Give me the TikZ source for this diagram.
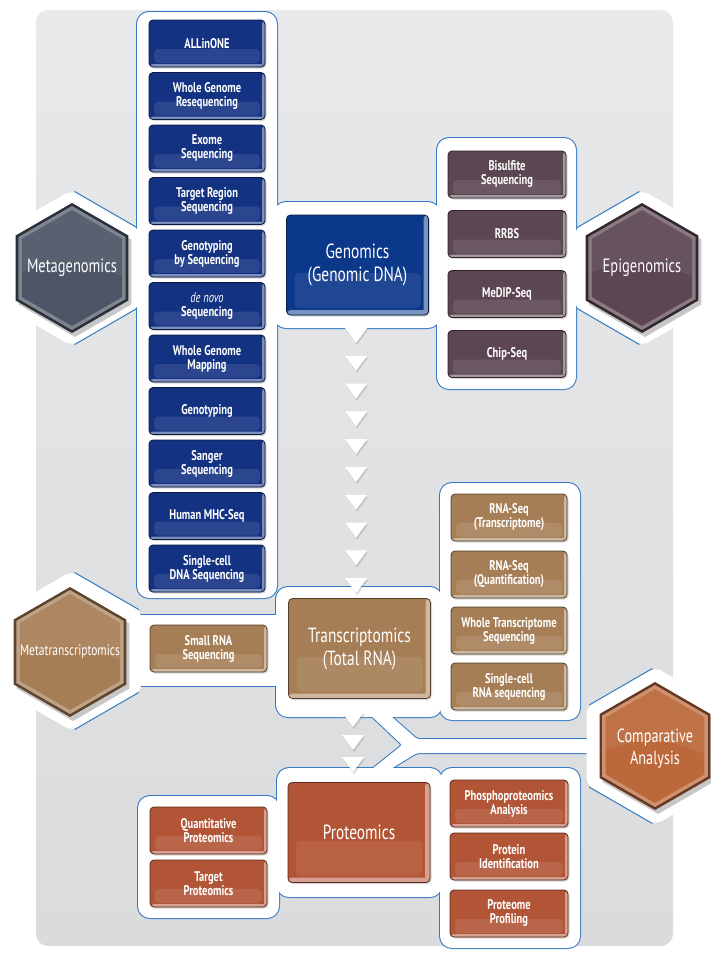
\documentclass[tikz,border=0pt]{standalone}
\usepackage{fontspec}
\newfontfamily\cf{PT Sans}[FakeStretch=0.75]
\usetikzlibrary{shadows}
\definecolor{bgtop}{RGB}{232,233,235}
\definecolor{bgbot}{RGB}{218,219,221}
\definecolor{pblue}{RGB}{50,120,195}
\definecolor{cblue}{RGB}{20,50,130}
\definecolor{cgen}{RGB}{12,56,138}
\definecolor{cepi}{RGB}{92,70,82}
\definecolor{cmeta}{RGB}{76,86,102}
\definecolor{ctan}{RGB}{166,126,86}
\definecolor{crust}{RGB}{178,84,54}
\definecolor{ccomp}{RGB}{188,104,58}

\newcommand\hexp[3]{(#1,{(#2)-(#3)}) -- ++({0.866*(#3)},{0.5*(#3)}) -- ++(0,{#3}) -- ++({-0.866*(#3)},{0.5*(#3)}) -- ++({-0.866*(#3)},{-0.5*(#3)}) -- ++(0,{-(#3)}) -- cycle}

\newcommand\hexbody[4]{%
 \fill[black,opacity=.22] \hexp{#1+3}{#2+4}{#3};
 \fill[#4!55!black] \hexp{#1}{#2}{#3};
 \fill[#4!72!white] \hexp{#1}{#2}{#3-3};
 \fill[#4] \hexp{#1}{#2}{#3-7};
 \fill[white,opacity=.07] ({#1-0.866*(#3-7)},{#2-0.5*(#3-7)}) -- (#1,{#2-(#3-7)}) -- ({#1+0.866*(#3-7)},{#2-0.5*(#3-7)}) -- ({#1+0.866*(#3-7)},{#2+8}) .. controls (#1,{#2-10}) .. ({#1-0.866*(#3-7)},{#2+4}) -- cycle;
}

\newcommand\allpanels[1]{%
 \path[#1,rounded corners=12pt] (137,12) rectangle (277,598);
 \path[#1,rounded corners=12pt] (274,202) rectangle (440,328);
 \path[#1,rounded corners=12pt] (437,138) rectangle (576,389);
 \path[#1] (80,232) rectangle (140,304);
 \path[#1] (574,232) rectangle (635,304);
 \path[#1,rounded corners=12pt] (276,587) rectangle (442,717);
 \path[#1,rounded corners=12pt] (440,483) rectangle (580,720);
 \path[#1] (80,615) rectangle (279,686);
 \path[#1,rounded corners=2pt] (365,710) -- (384,710) -- (417,739) -- (600,739) -- (600,753) -- (417,753) -- (384,773) -- (367,773) -- (402,745) -- cycle;
 \path[#1,rounded corners=12pt] (277,768) rectangle (442,897);
 \path[#1,rounded corners=12pt] (440,768) rectangle (580,948);
 \path[#1,rounded corners=12pt] (138,796) rectangle (279,918);
}
\newcommand\halos{%
 \fill[white,rounded corners=8pt] \hexp{72}{268}{78};
 \fill[white,rounded corners=8pt] \hexp{642}{268}{78};
 \fill[white,rounded corners=8pt] \hexp{72}{651}{80};
 \fill[white,rounded corners=8pt] \hexp{655}{746}{79};
}

\tikzset{
 boxbase/.style={rounded corners=4pt, fill=#1, draw=#1!50!black, line width=0.8pt, text=white, align=center, inner sep=0pt,
   drop shadow={opacity=0.3,shadow xshift=1.5pt,shadow yshift=-1.5pt}},
 sbox/.style={boxbase=#1, minimum width=116pt, minimum height=47pt, font=\cf\bfseries\fontsize{14}{14}\selectfont,
   path picture={
     \fill[white,opacity=0.10] ([xshift=5pt,yshift=4pt]path picture bounding box.south west) rectangle ([xshift=-5pt,yshift=18pt]path picture bounding box.south east);
     \fill[#1!55!white] (path picture bounding box.south west) rectangle ([yshift=3pt]path picture bounding box.south east);
     \fill[#1!55!white] ([xshift=-3pt]path picture bounding box.north east) rectangle (path picture bounding box.south east);
   }},
 bbox/.style={boxbase=#1, minimum width=142pt, minimum height=100pt, font=\cf\fontsize{20.5}{23}\selectfont,
   path picture={
     \fill[white,opacity=0.08] ([xshift=8pt,yshift=7pt]path picture bounding box.south west) rectangle ([xshift=-8pt,yshift=42pt]path picture bounding box.south east);
     \fill[#1!55!white] (path picture bounding box.south west) rectangle ([yshift=5pt]path picture bounding box.south east);
     \fill[#1!55!white] ([xshift=-5pt]path picture bounding box.north east) rectangle (path picture bounding box.south east);
   }},
 hexlabel/.style={text=white, align=center, font=\cf\fontsize{19.3}{22}\selectfont},
 tri/.style={fill=white, drop shadow={opacity=0.3,shadow xshift=1pt,shadow yshift=-2pt}},
 haloedge/.style={draw=pblue, line width=1pt, shorten <=3pt, shorten >=3pt},
}

\begin{document}
\begin{tikzpicture}[x=1pt,y=-1pt]
\useasboundingbox (0,0) rectangle (711,954);
\shade[top color=bgtop, bottom color=bgbot, rounded corners=12pt] (36,10) rectangle (673,946);

% white panels with blue outline
\begin{scope}
 \clip (36,0) rectangle (673,954);
 \allpanels{draw=pblue,line width=2pt,fill=white}
 \allpanels{fill=white}
 \halos
 \draw[haloedge] (72,190) -- (139.5,229);
 \draw[haloedge] (139.5,307) -- (72,346);
 \draw[haloedge] (642,190) -- (574.5,229);
 \draw[haloedge] (574.5,307) -- (642,346);
 \draw[haloedge] (72,571) -- (141.3,611);
 \draw[haloedge] (141.3,691) -- (72,731);
 \draw[haloedge] (655,667) -- (586.6,706.5);
 \draw[haloedge] (586.6,785.5) -- (655,825);
\end{scope}

% flow triangles
\foreach \k in {0,...,9} {
  \path[tri] ({356-11},{328+27.8*\k}) -- ++(22,0) -- ++(-11,15) -- cycle;
}
\foreach \t in {712,735,757} {
  \path[tri] (342,\t) -- ++(22,0) -- ++(-11,15) -- cycle;
}

% hexagons
\hexbody{72}{268}{65}{cmeta}
\hexbody{642}{268}{65}{cepi}
\hexbody{70}{652}{65}{ctan}
\hexbody{655}{746}{64}{ccomp}
\node[hexlabel] (metag) at (72,268) {Metagenomics};
\node[hexlabel] (epig) at (642,268) {Epigenomics};
\node[hexlabel, font=\cf\fontsize{15.3}{16}\selectfont] (metat) at (70,652) {Metatranscriptomics};
\node[hexlabel, font=\cf\fontsize{19}{22}\selectfont] (comp) at (655,749) {Comparative\\Analysis};

% genomics column
\node[sbox=cblue] (b1) at (207,43.5) {ALLinONE};
\node[sbox=cblue] (b2) at (207,96) {Whole Genome\\Resequencing};
\node[sbox=cblue] (b3) at (207,148.5) {Exome\\Sequencing};
\node[sbox=cblue] (b4) at (207,201) {Target Region\\Sequencing};
\node[sbox=cblue] (b5) at (207,253.5) {Genotyping\\by Sequencing};
\node[sbox=cblue] (b6) at (207,306) {{\mdseries\itshape de novo}\\Sequencing};
\node[sbox=cblue] (b7) at (207,358.5) {Whole Genome\\Mapping};
\node[sbox=cblue] (b8) at (207,411) {Genotyping};
\node[sbox=cblue] (b9) at (207,463.5) {Sanger\\Sequencing};
\node[sbox=cblue] (b10) at (207,516) {Human MHC-Seq};
\node[sbox=cblue] (b11) at (207,568.5) {Single-cell\\DNA Sequencing};

\node[bbox=cgen] (gen) at (357.5,265) {Genomics\\(Genomic DNA)};

\node[sbox=cepi, minimum width=118pt] (e1) at (507,174.5) {Bisulfite\\Sequencing};
\node[sbox=cepi, minimum width=118pt] (e2) at (507,234) {RRBS};
\node[sbox=cepi, minimum width=118pt] (e3) at (507,294) {MeDIP-Seq};
\node[sbox=cepi, minimum width=118pt] (e4) at (507,354) {Chip-Seq};

% transcriptomics
\node[bbox=ctan] (tr) at (359.5,648.5) {Transcriptomics\\(Total RNA)};
\node[sbox=ctan] (r1) at (509,517.5) {RNA-Seq\\(Transcriptome)};
\node[sbox=ctan] (r2) at (509,574.5) {RNA-Seq\\(Quantification)};
\node[sbox=ctan] (r3) at (509,630.5) {Whole Transcriptome\\Sequencing};
\node[sbox=ctan] (r4) at (509,686.5) {Single-cell\\RNA sequencing};
\node[sbox=ctan, minimum width=117pt] (sr) at (208.5,648.5) {Small RNA\\Sequencing};

% proteomics
\node[bbox=crust] (pr) at (359,832.5) {Proteomics};
\node[sbox=crust, minimum width=118pt] (p1) at (509,803.5) {Phosphoproteomics\\Analysis};
\node[sbox=crust, minimum width=118pt] (p2) at (509,856.5) {Protein\\Identification};
\node[sbox=crust, minimum width=118pt] (p3) at (509,913.5) {Proteome\\Profiling};
\node[sbox=crust, minimum width=117pt] (q1) at (208.5,830.5) {Quantitative\\Proteomics};
\node[sbox=crust, minimum width=117pt] (q2) at (208.5,883.5) {Target\\Proteomics};
\end{tikzpicture}
\end{document}
